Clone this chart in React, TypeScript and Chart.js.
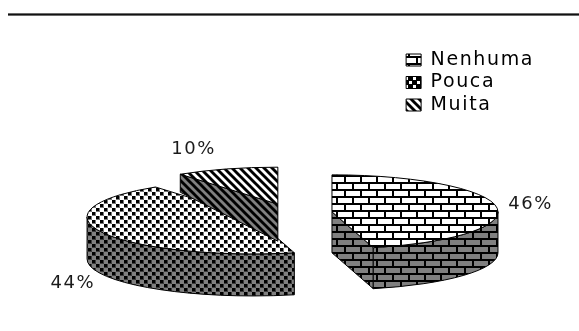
import React, { useEffect, useRef } from "react";
import { Chart, registerables } from "chart.js";

Chart.register(...registerables);

// Chart content
const categories = ["Nenhuma", "Pouca", "Muita"];
const percentValues = [46, 44, 10];

// Tilted-disc geometry
const DISC_CENTER = { x: 290.7, y: 213 };
const DISC_RX = 166;
const DISC_RY = 37;
const EXPLODE = 41.6;
const sliceDepth = [41, 42, 37];
const rimDepth = [41, 42, 18];
const labelNudge = [
  { x: 34, y: -3 },
  { x: -30, y: 51 },
  { x: -33, y: -20 },
];

const FONT_FAMILY = '"DejaVu Sans", sans-serif';
const FONT_SIZE = 19;
const LETTER_SPACING = "1.6px";
const INK = "#1a1a1a";

function makeTile(w: number, h: number, paint: (c: CanvasRenderingContext2D) => void) {
  const tile = document.createElement("canvas");
  tile.width = w;
  tile.height = h;
  const c = tile.getContext("2d")!;
  paint(c);
  return c.createPattern(tile, "repeat")!;
}

function bricks(face: string) {
  return makeTile(16, 14, (c) => {
    c.fillStyle = face;
    c.fillRect(0, 0, 16, 14);
    c.fillStyle = "#000";
    c.fillRect(0, 0, 16, 2);
    c.fillRect(0, 7, 16, 2);
    c.fillRect(0, 0, 2, 7);
    c.fillRect(8, 7, 2, 7);
  });
}

function dots(face: string, halo: string) {
  return makeTile(8, 8, (c) => {
    c.fillStyle = face;
    c.fillRect(0, 0, 8, 8);
    c.fillStyle = halo;
    c.fillRect(0, 0, 4, 4);
    c.fillRect(4, 4, 4, 4);
    c.fillStyle = "#000";
    c.fillRect(0, 0, 3, 3);
    c.fillRect(4, 4, 3, 3);
  });
}

function stripes(face: string) {
  return makeTile(8, 8, (c) => {
    c.fillStyle = face;
    c.fillRect(0, 0, 8, 8);
    c.strokeStyle = "#000";
    c.lineWidth = 2.9;
    for (let i = -8; i <= 8; i += 8) {
      c.beginPath();
      c.moveTo(i - 2, -2);
      c.lineTo(i + 10, 10);
      c.stroke();
    }
  });
}

function swatchDots() {
  return makeTile(8, 8, (c) => {
    c.fillStyle = "#000";
    c.fillRect(0, 0, 8, 8);
    c.fillStyle = "#fff";
    c.fillRect(1, 1, 3, 3);
    c.fillRect(5, 5, 3, 3);
  });
}

// Screen-space frame of one slice: its exploded centre and angles.
function sliceFrame(arc: any) {
  const mid = (arc.startAngle + arc.endAngle) / 2;
  return {
    mid,
    start: arc.startAngle,
    end: arc.endAngle,
    cx: DISC_CENTER.x + Math.cos(mid) * EXPLODE,
    cy: DISC_CENTER.y + (Math.sin(mid) * EXPLODE * DISC_RY) / DISC_RX,
  };
}

function paintFace(ctx: CanvasRenderingContext2D, pts: [number, number][]) {
  ctx.beginPath();
  pts.forEach(([x, y], i) => (i ? ctx.lineTo(x, y) : ctx.moveTo(x, y)));
  ctx.closePath();
  ctx.fill();
  ctx.stroke();
}

function drawWalls(ctx: CanvasRenderingContext2D, arc: any, index: number, wall: CanvasPattern) {
  const { cx, cy, start, end } = sliceFrame(arc);
  const depth = sliceDepth[index];
  const rim = (a: number): [number, number] => [cx + Math.cos(a) * DISC_RX, cy + Math.sin(a) * DISC_RY];
  ctx.save();
  ctx.fillStyle = wall;
  ctx.strokeStyle = "#000";
  ctx.lineWidth = 1;
  const radial = (a: number) => {
    const [x, y] = rim(a);
    paintFace(ctx, [
      [cx, cy],
      [x, y],
      [x, y + rimDepth[index]],
      [cx, cy + depth],
    ]);
  };
  if (Math.cos(start) < -1e-6) radial(start);
  if (Math.cos(end) > 1e-6) radial(end);

  // Curved outer wall, only where the rim faces the viewer.
  const from = Math.max(start, 0);
  const to = Math.min(end, Math.PI);
  if (to > from) {
    ctx.beginPath();
    ctx.ellipse(cx, cy, DISC_RX, DISC_RY, 0, from, to);
    ctx.ellipse(cx, cy + depth, DISC_RX, DISC_RY, 0, to, from, true);
    ctx.closePath();
    ctx.fill();
    ctx.stroke();
  }
  ctx.restore();
}

function drawTop(ctx: CanvasRenderingContext2D, arc: any) {
  const { cx, cy, start, end } = sliceFrame(arc);
  const R = arc.outerRadius;
  ctx.save();
  ctx.translate(cx, cy);
  ctx.scale(DISC_RX / R, DISC_RY / R);
  ctx.translate(-arc.x, -arc.y);
  // Keep the hatch tile at its natural size under the tilt transform.
  arc.options.backgroundColor.setTransform(ctx.getTransform().inverse());
  arc.draw(ctx);
  ctx.restore();

  ctx.save();
  ctx.strokeStyle = "#000";
  ctx.lineWidth = 1;
  ctx.beginPath();
  ctx.moveTo(cx, cy);
  ctx.ellipse(cx, cy, DISC_RX, DISC_RY, 0, start, end);
  ctx.closePath();
  ctx.stroke();
  ctx.restore();
}

function applyTextSpacing(chart: any) {
  chart.ctx.letterSpacing = LETTER_SPACING;
}

export default function App() {
  const ref = useRef<HTMLCanvasElement | null>(null);

  useEffect(() => {
    const tops = [bricks("#fff"), dots("#fff", "#777"), stripes("#fff")];
    const walls = [bricks("#808080"), dots("#808080", "#3a3a3a"), stripes("#808080")];
    const swatches = [bricks("#fff"), swatchDots(), stripes("#fff")];

    const tiltedPie = {
      id: "tiltedPie",
      beforeUpdate: applyTextSpacing,
      beforeDraw(chart: any) {
        applyTextSpacing(chart);
        const { ctx } = chart;
        ctx.save();
        ctx.fillStyle = "#6a6a6a";
        ctx.fillRect(8, 13, 571, 3);
        ctx.fillStyle = "#111";
        ctx.fillRect(8, 14, 571, 1);
        ctx.restore();
      },
      beforeDatasetDraw(chart: any, args: any) {
        const { ctx } = chart;
        args.meta.data.forEach((arc: any, i: number) => {
          drawWalls(ctx, arc, i, walls[i]);
          drawTop(ctx, arc);
        });
        return false;
      },
      afterDatasetsDraw(chart: any) {
        const { ctx } = chart;
        const values = chart.data.datasets[0].data;
        ctx.save();
        ctx.font = `${FONT_SIZE - 1}px ${FONT_FAMILY}`;
        ctx.fillStyle = INK;
        ctx.textAlign = "center";
        ctx.textBaseline = "middle";
        chart.getDatasetMeta(0).data.forEach((arc: any, i: number) => {
          const { cx, cy, mid } = sliceFrame(arc);
          ctx.fillText(
            `${values[i]}%`,
            cx + Math.cos(mid) * DISC_RX + labelNudge[i].x,
            cy + Math.sin(mid) * DISC_RY + labelNudge[i].y
          );
        });
        ctx.restore();
      },
    };

    const chart = new Chart(ref.current!, {
      type: "pie",
      data: {
        labels: categories,
        datasets: [{ data: percentValues, backgroundColor: tops, borderWidth: 0, hoverOffset: 0 }],
      },
      options: {
        responsive: false,
        animation: false,
        events: [],
        layout: { padding: { top: 47, right: 35 } },
        plugins: {
          tooltip: { enabled: false },
          legend: {
            position: "right",
            align: "start",
            labels: {
              boxWidth: 15,
              boxHeight: 12,
              padding: 3.5,
              color: INK,
              font: { family: FONT_FAMILY, size: FONT_SIZE },
              generateLabels: () =>
                categories.map((text, i) => ({
                  text,
                  fillStyle: swatches[i],
                  strokeStyle: "#000",
                  lineWidth: 1,
                  hidden: false,
                  index: i,
                })),
            },
          },
        },
      },
      plugins: [tiltedPie],
    } as any);

    return () => chart.destroy();
  }, []);

  return (
    <div style={{ position: "absolute", left: 0, top: 0, width: 579, height: 331, background: "#fff" }}>
      <canvas ref={ref} width={579} height={331} style={{ display: "block" }} />
    </div>
  );
}
